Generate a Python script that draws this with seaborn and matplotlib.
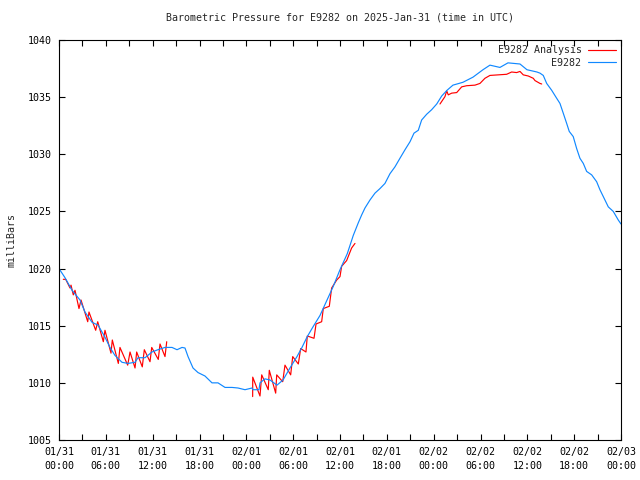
import matplotlib
matplotlib.use("Agg")
import matplotlib.pyplot as plt
import matplotlib.dates as mdates
import numpy as np
import pandas as pd
import seaborn as sns

# hours since 2025-01-31 00:00 UTC, pressure in mb
obs_hours = [0.0, 0.77, 1.67, 2.69, 3.33, 4.23, 5.0, 5.89, 6.53, 7.17, 8.07, 8.84,
             9.74, 10.12, 11.02, 11.91, 12.68, 13.58, 14.48, 15.12, 15.76, 16.14,
             16.53, 17.17, 17.81, 18.70, 19.60, 20.37, 21.27, 22.17, 22.93, 23.83,
             24.73, 24.85, 25.62, 25.75, 26.39, 27.03, 27.93, 28.70, 29.59, 30.49,
             31.13, 31.77, 32.54, 33.44, 34.34, 35.11, 36.0, 36.93, 37.70, 38.34,
             38.78, 39.2, 39.84, 40.48, 41.12, 41.76, 42.40, 43.04, 43.68, 44.33,
             44.97, 45.48, 46.03, 46.46, 47.1, 47.74, 48.39, 49.03, 49.71, 50.47,
             51.75, 53.04, 54.32, 55.21, 56.49, 57.52, 59.06, 59.95, 61.23, 61.62,
             62.04, 62.48, 63.12, 63.76, 64.18, 64.6, 65.04, 65.37, 65.88, 66.32,
             66.74, 67.17, 67.6, 68.24, 68.88, 69.3, 69.73, 70.37, 71.01, 71.65, 72.0]
obs_mb = [1020.0, 1019.2, 1018.1, 1017.25, 1016.2, 1015.3, 1015.05, 1014.0, 1013.1,
          1012.4, 1011.8, 1011.7, 1011.8, 1012.2, 1012.2, 1012.7, 1012.9, 1013.1,
          1013.1, 1012.9, 1013.1, 1013.05, 1012.3, 1011.3, 1010.9, 1010.6, 1010.0,
          1010.0, 1009.6, 1009.6, 1009.55, 1009.4, 1009.55, 1009.4, 1009.4, 1010.0,
          1010.35, 1010.25, 1009.8, 1010.25, 1011.3, 1012.3, 1013.1, 1014.0, 1014.9,
          1015.9, 1017.25, 1018.4, 1019.9, 1021.3, 1022.9, 1024.0, 1024.7, 1025.3,
          1026.0, 1026.6, 1027.0, 1027.45, 1028.3, 1028.9, 1029.65, 1030.4, 1031.1,
          1031.85, 1032.1, 1033.0, 1033.5, 1033.9, 1034.4, 1035.1, 1035.6, 1036.05,
          1036.3, 1036.75, 1037.4, 1037.8, 1037.6, 1038.0, 1037.9, 1037.4, 1037.2,
          1037.1, 1036.9, 1036.2, 1035.6, 1034.9, 1034.45, 1033.6, 1032.7, 1032.0,
          1031.55, 1030.5, 1029.65, 1029.2, 1028.5, 1028.2, 1027.6, 1026.9, 1026.3,
          1025.4, 1025.0, 1024.25, 1023.9]

ana1_hours = [0.55, 0.86, 1.41, 1.54, 1.83, 2.05, 2.56, 2.82, 3.68, 3.84, 4.70, 4.96,
              5.68, 5.89, 6.66, 6.83, 7.60, 7.81, 8.80, 9.10, 9.74, 9.95, 10.67, 10.93,
              11.66, 11.88, 12.72, 12.94, 13.58, 13.80]
ana1_mb = [1019.06, 1019.06, 1018.3, 1018.55, 1017.7, 1018.1, 1016.5, 1017.25, 1015.35,
           1016.2, 1014.6, 1015.35, 1013.6, 1014.6, 1012.6, 1013.75, 1011.7, 1013.1,
           1011.55, 1012.7, 1011.3, 1012.7, 1011.4, 1012.9, 1011.85, 1013.1, 1012.05,
           1013.4, 1012.3, 1013.6]

ana2_hours = [24.81, 24.82, 25.75, 25.97, 26.81, 26.94, 27.76, 27.89, 28.66, 28.95,
              29.68, 29.94, 30.66, 30.96, 31.64, 31.81, 32.67, 32.93, 33.65, 33.86,
              34.63, 34.93, 35.58, 36.0, 36.21, 36.85, 37.49, 37.92]
ana2_mb = [1008.8, 1010.5, 1008.85, 1010.7, 1009.4, 1011.1, 1009.1, 1010.7, 1010.1,
           1011.55, 1010.7, 1012.3, 1011.65, 1013.0, 1012.7, 1014.1, 1013.9, 1015.15,
           1015.35, 1016.5, 1016.7, 1018.3, 1019.0, 1019.3, 1020.2, 1020.7, 1021.8,
           1022.2]

ana3_hours = [48.81, 49.45, 49.67, 49.87, 50.31, 50.95, 51.59, 52.23, 53.29, 53.93,
              54.57, 55.21, 56.28, 57.35, 57.99, 58.63, 59.06, 59.48, 60.12, 60.76,
              60.98, 61.62, 61.84]
ana3_mb = [1034.4, 1035.05, 1035.55, 1035.2, 1035.35, 1035.4, 1035.9, 1036.0, 1036.05,
           1036.2, 1036.65, 1036.9, 1036.95, 1037.0, 1037.2, 1037.15, 1037.25, 1036.95,
           1036.85, 1036.65, 1036.45, 1036.2, 1036.15]

start = pd.Timestamp("2025-01-31 00:00")

def to_df(hours, mb):
    return pd.DataFrame({"time": start + pd.to_timedelta(hours, unit="h"), "mb": mb})

sns.set_theme(style="white")
plt.rcParams["font.family"] = ["DejaVu Sans Mono", "DejaVu Sans"]
fs = 7.2

fig = plt.figure(figsize=(6.4, 4.8), dpi=100)
ax = fig.add_axes([59 / 640, 1 - 440 / 480, 562 / 640, 400 / 480])

red = "#ff0000"
blue = "#1088ff"
segs = [(ana1_hours, ana1_mb), (ana2_hours, ana2_mb), (ana3_hours, ana3_mb)]
for i, (h, m) in enumerate(segs):
    sns.lineplot(data=to_df(h, m), x="time", y="mb", ax=ax, color=red, linewidth=0.85,
                 estimator=None, sort=False, label="E9282 Analysis" if i == 0 else None)
sns.lineplot(data=to_df(obs_hours, obs_mb), x="time", y="mb", ax=ax, color=blue,
             linewidth=0.85, estimator=None, sort=False, label="E9282")

ax.set_xlim(start, start + pd.Timedelta(hours=72))
ax.set_ylim(1005, 1040)
ax.set_yticks(np.arange(1005, 1041, 5))
ax.xaxis.set_major_locator(mdates.HourLocator(byhour=[0, 6, 12, 18]))
ax.xaxis.set_minor_locator(mdates.HourLocator(byhour=[3, 9, 15, 21]))
ax.xaxis.set_major_formatter(mdates.DateFormatter("%m/%d\n%H:%M"))
ax.tick_params(axis="both", which="both", direction="in", length=4, width=0.8,
               top=True, right=True, bottom=True, left=True, labelsize=fs,
               colors="black", pad=5)
for lab in ax.get_xticklabels():
    lab.set_linespacing(1.5)
for sp in ax.spines.values():
    sp.set_color("black")
    sp.set_linewidth(0.8)

ax.set_xlabel("")
ax.set_ylabel("milliBars", fontsize=fs, labelpad=8)
ax.set_title("Barometric Pressure for E9282 on 2025-Jan-31 (time in UTC)",
             fontsize=fs, pad=14)

leg = ax.legend(loc="upper right", frameon=False, markerfirst=False, fontsize=fs,
                handlelength=2.8, handletextpad=0.6, labelspacing=0.25,
                borderaxespad=0.15)

fig.savefig("out.png", dpi=100)
